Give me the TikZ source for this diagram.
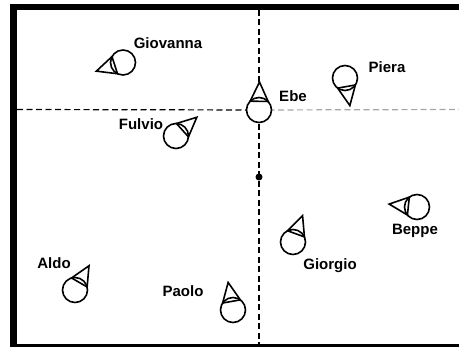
\documentclass[tikz,border=0pt]{standalone}
\usepackage{fontspec}
\setmainfont{Liberation Sans}
\usetikzlibrary{calc}
\tikzset{
  frameline/.style={line width=6.5pt},
  dline/.style={line width=1.2pt, dash pattern=on 6pt off 3.5pt},
  gline/.style={dline, draw=black!35},
  pcircle/.style={circle, draw, line width=1.6pt, fill=white, minimum size=25pt, inner sep=0pt},
  nosefill/.style={fill=white},
  nose/.style={draw, line width=1.6pt, line join=miter},
  lbl/.style={font=\fontsize{15}{17}\selectfont\bfseries, inner sep=0pt, anchor=base},
  dotnode/.style={circle, fill=black, minimum size=7pt, inner sep=0pt}
}
\newcommand\myperson[2]{%
  \fill[nosefill] ($(#1.center)+(#2:28pt)$) -- ($(#1.center)+(#2+46:12.5pt)$) -- ($(#1.center)+(#2-46:12.5pt)$) -- cycle;
  \node[pcircle] at (#1.center) {};
  \draw[nose] ($(#1.center)+(#2:28pt)$) -- ($(#1.center)+(#2+46:12.5pt)$) -- ($(#1.center)+(#2-46:12.5pt)$) -- cycle;
}
\begin{document}
\begin{tikzpicture}[x=1pt,y=-1pt]
\useasboundingbox (0,0) rectangle (459,347);
\clip (0,0) rectangle (459,347);
% coordinates
\coordinate (hl) at (17,109.5);
\coordinate (hr) at (459,109.5);
\coordinate (vt) at (259,10);
\coordinate (vb) at (259,344);
% frame
\draw[frameline] (459,7) -- (13.5,7) -- (13.5,347.5) -- (459,347.5);
% person anchors
\coordinate (giovanna) at (123,62.5);
\coordinate (fulvio) at (176,136);
\coordinate (ebe) at (259,110);
\coordinate (piera) at (345,78);
\coordinate (beppe) at (417,207);
\coordinate (giorgio) at (293,242);
\coordinate (aldo) at (75,290);
\coordinate (paolo) at (233,310);
% dashed axes
\draw[dline] (hl) -- (ebe);
\draw[gline] (ebe) -- (hr);
\draw[dline] (vt) -- (vb);
\node[dotnode] (centre) at (259,177) {};
% persons
\myperson{giovanna}{198}
\myperson{fulvio}{42}
\myperson{ebe}{89}
\myperson{piera}{-80}
\myperson{beppe}{174}
\myperson{giorgio}{70}
\myperson{aldo}{60}
\myperson{paolo}{100}
% labels
\node[lbl] (lgiovanna) at (168,49) {Giovanna};
\node[lbl] (lfulvio) at (141,130) {Fulvio};
\node[lbl] (lebe) at (293,102) {Ebe};
\node[lbl] (lpiera) at (387,73) {Piera};
\node[lbl] (lbeppe) at (415,235) {Beppe};
\node[lbl] (lgiorgio) at (330,270) {Giorgio};
\node[lbl] (laldo) at (54,269) {Aldo};
\node[lbl] (lpaolo) at (183,297) {Paolo};
\end{tikzpicture}
\end{document}
